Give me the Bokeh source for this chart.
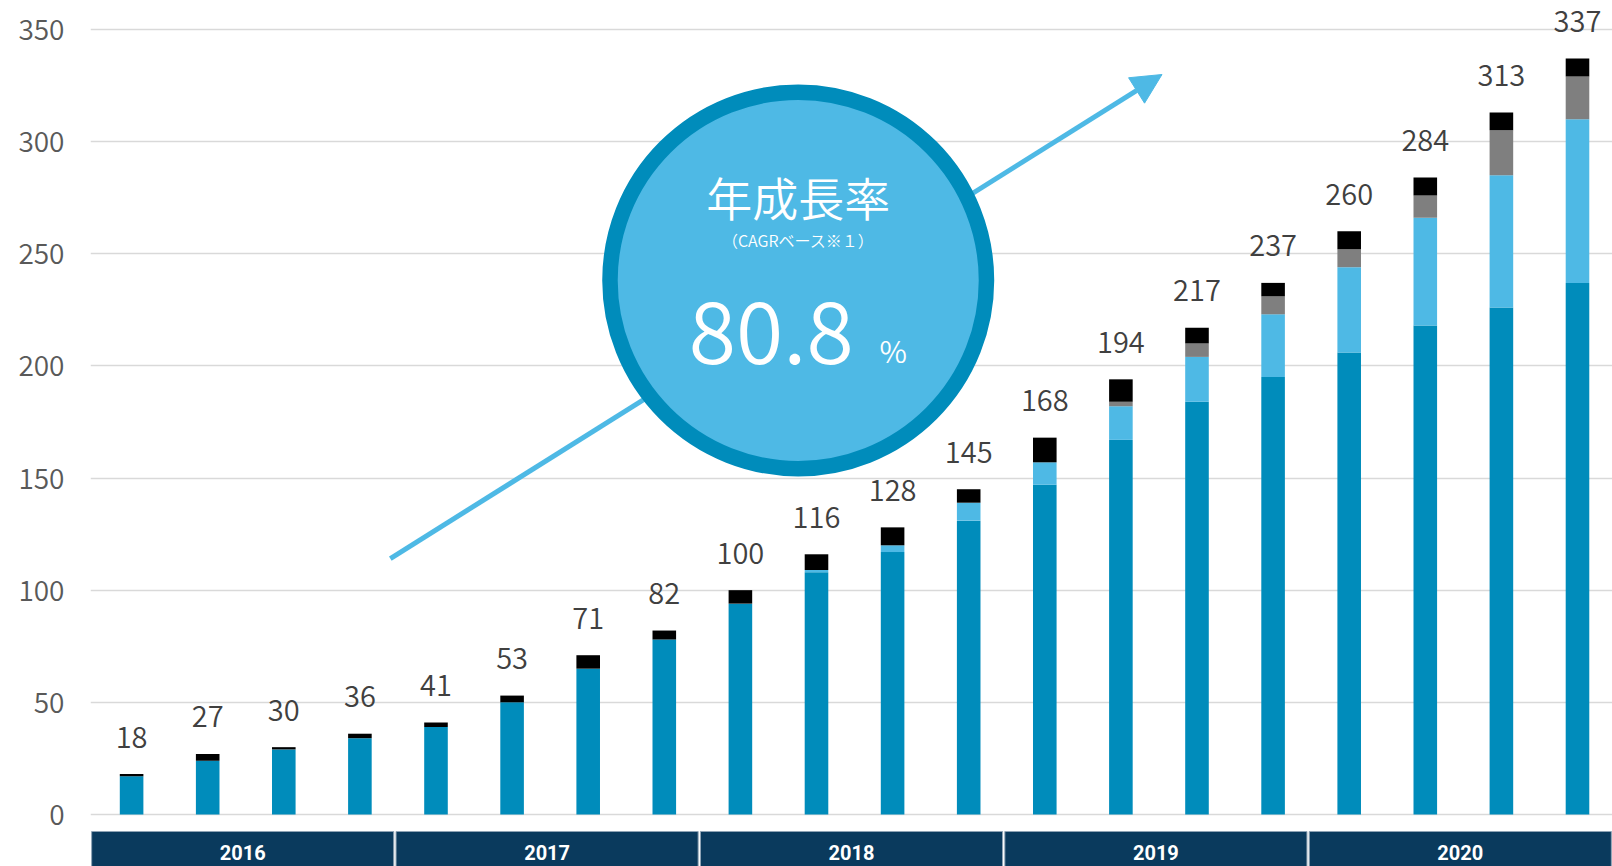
from bokeh.plotting import figure
from bokeh.models import Range1d, FixedTicker, Arrow, NormalHead, ColumnDataSource
from bokeh.core.properties import value
from bokeh.embed import file_html
from bokeh.resources import INLINE

# ---- data ----
years = ["2016", "2017", "2018", "2019", "2020"]
quarters_per_year = 4
dark = [17, 24, 29, 34, 39, 50, 65, 78, 94, 108, 117, 131, 147, 167, 184, 195, 206, 218, 226, 237]
light = [0, 0, 0, 0, 0, 0, 0, 0, 0, 1, 3, 8, 10, 15, 20, 28, 38, 48, 59, 73]
gray = [0, 0, 0, 0, 0, 0, 0, 0, 0, 0, 0, 0, 0, 2, 6, 8, 8, 10, 20, 19]
black = [1, 3, 1, 2, 2, 3, 6, 4, 6, 7, 8, 6, 11, 10, 7, 6, 8, 8, 8, 8]
totals = [18, 27, 30, 36, 41, 53, 71, 82, 100, 116, 128, 145, 168, 194, 217, 237, 260, 284, 313, 337]
y_ticks = [0, 50, 100, 150, 200, 250, 300, 350]
cagr_title = "年成長率"
cagr_note = "（CAGRベース※１）"
cagr_value = "80.8"

DEMIFONT = "Noto Sans CJK JP DemiLight"
C_DARK = "#008CBB"
C_LIGHT = "#4EB9E5"
C_GRAY = "#7F7F7F"
C_BLACK = "#000000"
C_BAND = "#0A3A5D"

n = len(totals)
xs = [i + 0.54 for i in range(n)]
src = ColumnDataSource(dict(x=xs, dark=dark, light=light, gray=gray, black=black,
                            total=totals, label=[str(t) for t in totals]))

p = figure(width=1612, height=866, output_backend="svg", toolbar_location=None,
           x_range=Range1d(0, 20.0), y_range=Range1d(-23.2, 362.9),
           x_axis_location=None, min_border_top=0, min_border_bottom=0,
           min_border_right=0, min_border_left=90)
p.outline_line_color = None
p.background_fill_color = "white"
p.xgrid.visible = False
p.ygrid.grid_line_color = "#D9D9D9"
p.ygrid.grid_line_width = 1.3
p.yaxis.ticker = FixedTicker(ticks=y_ticks)
p.yaxis.major_label_overrides = {t: str(t) for t in y_ticks}
p.yaxis.axis_line_color = None
p.yaxis.major_tick_line_color = None
p.yaxis.minor_tick_line_color = None
p.yaxis.major_tick_out = 0
p.yaxis.major_label_standoff = 26
p.yaxis.major_label_text_font = DEMIFONT
p.yaxis.major_label_text_font_size = "28px"
p.yaxis.major_label_text_color = "#595959"

# growth arrow (drawn beneath the glyphs so the badge covers it)
p.add_layout(Arrow(x_start=3.94, y_start=114.1, x_end=14.08, y_end=329.9,
                   line_color=C_LIGHT, line_width=5, level="underlay",
                   end=NormalHead(size=30, fill_color=C_LIGHT, line_color=C_LIGHT)))

# stacked bars
p.vbar_stack(["dark", "light", "gray", "black"], x="x", width=0.31, source=src,
             color=[C_DARK, C_LIGHT, C_GRAY, C_BLACK], line_color=None)

# data labels
p.text(x="x", y="total", text="label", source=src, text_align="center",
       text_baseline="middle", y_offset=-37, text_font=value(DEMIFONT),
       text_font_size="29px", text_color="#404040")

# year band
band_left = [k * quarters_per_year + 0.015 for k in range(len(years))]
band_right = [(k + 1) * quarters_per_year - 0.015 for k in range(len(years))]
band_mid = [k * quarters_per_year + quarters_per_year / 2 for k in range(len(years))]
p.quad(left=band_left, right=band_right, bottom=-30, top=-7.6,
       fill_color=C_BAND, line_color="#8FA3B5", line_width=1)
p.text(x=band_mid, y=[-16.8] * len(years), text=years, text_align="center",
       text_baseline="middle", text_font=value("Roboto"), text_font_style="bold",
       text_font_size="20px", text_color="white")

# CAGR badge
cx, cy = 9.30, 238.1
p.scatter(x=[cx], y=[cy], marker="circle", size=376.5, fill_color=C_LIGHT,
          line_color=C_DARK, line_width=15.5)
p.text(x=[cx], y=[cy], text=[cagr_title], text_align="center", text_baseline="middle",
       y_offset=-84, text_font=value(DEMIFONT), text_font_size="46px", text_color="white")
p.text(x=[cx], y=[cy], text=[cagr_note], text_align="center", text_baseline="middle",
       y_offset=-40, text_font=value(DEMIFONT), text_font_size="16px", text_color="white")
p.text(x=[cx], y=[cy], text=[cagr_value], text_align="center", text_baseline="middle",
       x_offset=-27, y_offset=52, text_font=value(DEMIFONT), text_font_size="86px",
       text_color="white")
p.text(x=[cx], y=[cy], text=["%"], text_align="center", text_baseline="middle",
       x_offset=95, y_offset=70, text_font=value(DEMIFONT), text_font_size="30px",
       text_color="white")

open("out.html", "w").write(file_html(p, INLINE))
